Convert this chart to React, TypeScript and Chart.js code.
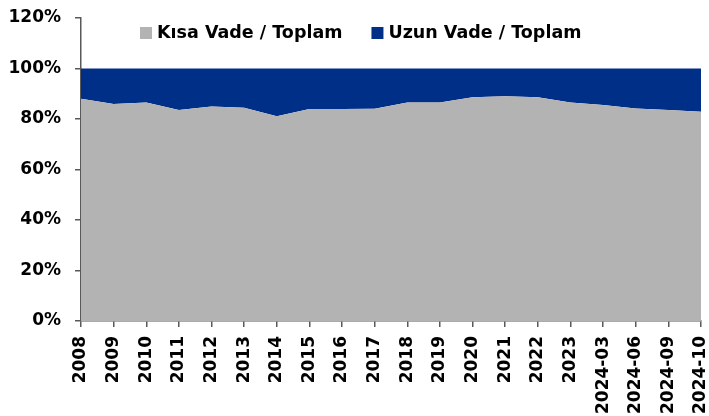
import React, { useEffect, useRef } from "react";
import { Chart, registerables } from "chart.js";

Chart.register(...registerables);

const categories = [
  "2008", "2009", "2010", "2011", "2012", "2013", "2014", "2015", "2016", "2017",
  "2018", "2019", "2020", "2021", "2022", "2023", "2024-03", "2024-06", "2024-09", "2024-10",
];

const kisaVade = [88.0, 85.9, 86.5, 83.6, 85.0, 84.5, 81.1, 84.0, 84.0, 84.1, 86.5, 86.5, 88.6, 89.0, 88.6, 86.5, 85.5, 84.2, 83.6, 82.9];
const uzunVade = [12.0, 14.1, 13.5, 16.4, 15.0, 15.5, 18.9, 16.0, 16.0, 15.9, 13.5, 13.5, 11.4, 11.0, 11.4, 13.5, 14.5, 15.8, 16.4, 17.1];

const seriesLabels = ["Kısa Vade / Toplam", "Uzun Vade / Toplam"];
const seriesColors = ["#b3b3b3", "#002f87"];

const FONT_FAMILY = "'DejaVu Sans', sans-serif";

const legendPlugin = {
  id: "customLegend",
  afterDraw(chart: any) {
    const ctx = chart.ctx;
    const area = chart.chartArea;
    ctx.save();
    ctx.font = `bold 17.5px ${FONT_FAMILY}`;
    ctx.textBaseline = "alphabetic";
    ctx.textAlign = "left";
    let x = area.left + 59;
    const boxY = 27;
    const box = 12;
    chart.data.datasets.forEach((ds: any) => {
      ctx.fillStyle = ds.backgroundColor;
      ctx.fillRect(x, boxY, box, box);
      ctx.fillStyle = "#000";
      const tx = x + box + 5;
      ctx.fillText(ds.label, tx, 38);
      x = tx + ctx.measureText(ds.label).width + 29;
    });
    ctx.restore();
  },
};

export default function App() {
  const canvasRef = useRef<HTMLCanvasElement | null>(null);

  useEffect(() => {
    document.body.style.margin = "0";
    const canvas = canvasRef.current;
    if (!canvas) return;
    const chart = new Chart(canvas, {
      type: "line",
      data: {
        labels: categories,
        datasets: [
          {
            label: seriesLabels[0],
            data: kisaVade,
            backgroundColor: seriesColors[0],
            borderColor: seriesColors[0],
            borderWidth: 0,
            pointRadius: 0,
            fill: "origin",
            tension: 0,
          },
          {
            label: seriesLabels[1],
            data: uzunVade,
            backgroundColor: seriesColors[1],
            borderColor: seriesColors[1],
            borderWidth: 0,
            pointRadius: 0,
            fill: "-1",
            tension: 0,
          },
        ],
      },
      options: {
        animation: false,
        responsive: false,
        maintainAspectRatio: false,
        layout: { padding: { top: 18, right: 8, left: 0, bottom: 0 } },
        plugins: {
          legend: { display: false },
          tooltip: { enabled: false },
        },
        scales: {
          x: {
            type: "category",
            offset: false,
            grid: {
              display: true,
              drawOnChartArea: false,
              drawTicks: true,
              tickLength: 6,
              color: "#595959",
              lineWidth: 1.5,
            },
            border: { display: true, color: "#595959", width: 1.5 },
            ticks: {
              autoSkip: false,
              maxRotation: 90,
              minRotation: 90,
              color: "#000",
              padding: 9,
              font: { family: FONT_FAMILY, size: 17, weight: "bold" },
            },
            afterFit(scale: any) {
              scale.height = 95;
              scale.paddingLeft = 0;
              scale.paddingRight = 0;
            },
          },
          y: {
            stacked: true,
            min: 0,
            max: 120,
            grid: {
              display: true,
              drawOnChartArea: false,
              drawTicks: true,
              tickLength: 6,
              color: "#595959",
              lineWidth: 1.5,
            },
            border: { display: true, color: "#595959", width: 1.5 },
            ticks: {
              stepSize: 20,
              color: "#000",
              padding: 14,
              font: { family: FONT_FAMILY, size: 17, weight: "bold" },
              callback: (v: any) => `${v}%`,
            },
            afterFit(scale: any) {
              scale.width = 81;
              scale.paddingTop = 0;
              scale.paddingBottom = 0;
            },
          },
        },
      },
      plugins: [legendPlugin],
    });
    return () => chart.destroy();
  }, []);

  return (
    <div style={{ position: "fixed", left: 0, top: 0, width: 709, height: 416 }}>
      <canvas ref={canvasRef} width={709} height={416} style={{ display: "block" }} />
    </div>
  );
}
